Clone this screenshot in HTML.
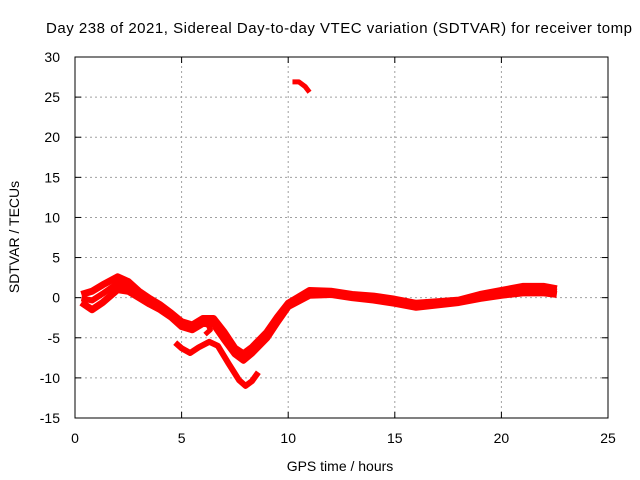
<!DOCTYPE html>
<html><head><meta charset="utf-8"><style>
body{margin:0;background:#fff;}
svg{display:block;font-family:"Liberation Sans",sans-serif;}
</style></head><body>
<svg id="chart" width="640" height="480">
<rect width="640" height="480" fill="#fff"/>
<text x="46" y="33" font-size="15" textLength="586" lengthAdjust="spacing" fill="#000">Day 238 of 2021, Sidereal Day-to-day VTEC variation (SDTVAR) for receiver tomp</text>
<g id="grid"></g>
<g id="axes"></g>
<g id="series"></g>
<text x="340" y="471" font-size="14" text-anchor="middle">GPS time / hours</text>
<text transform="translate(19,237) rotate(-90)" font-size="14" text-anchor="middle">SDTVAR / TECUs</text>
</svg>
<script>
const xTicks=[0,5,10,15,20,25];
const yTicks=[-15,-10,-5,0,5,10,15,20,25,30];
const mainUpperX=[0.3,0.8,1.3,2.0,2.5,3.0,3.5,4.0,4.5,5.0,5.5,6.0,6.5,7.0,7.5,7.9,8.3,9.0,9.5,10.0,10.5,11,12,13,14,15,16,17,18,19,20,21,22,22.6];
const mainUpperY=[0.4,0.8,1.6,2.6,2.0,0.8,-0.1,-0.9,-1.9,-3.0,-3.4,-2.6,-2.6,-4.3,-6.3,-7.0,-6.2,-4.3,-2.4,-0.7,0.1,0.9,0.8,0.4,0.2,-0.2,-0.7,-0.5,-0.3,0.4,0.9,1.4,1.4,1.1];
const mainLowerX=[0.3,0.8,1.3,2.0,2.5,3.0,3.5,4.0,4.5,5.0,5.5,6.0,6.5,7.0,7.5,7.9,8.3,9.0,9.5,10.0,10.5,11,12,13,14,15,16,17,18,19,20,21,22,22.6];
const mainLowerY=[-0.6,-1.5,-0.6,1.0,0.8,0.0,-0.8,-1.5,-2.4,-3.6,-4.0,-3.2,-3.3,-5.2,-7.0,-7.8,-6.9,-5.0,-3.0,-1.1,-0.4,0.3,0.4,0.0,-0.3,-0.7,-1.2,-0.9,-0.6,-0.1,0.3,0.6,0.6,0.4];
const hookX=[5.9,6.2,6.35,6.1];
const hookY=[-2.7,-3.2,-4.0,-4.6];
const lowerX=[4.7,5.0,5.4,5.8,6.3,6.7,7.2,7.7,8.0,8.3,8.6];
const lowerY=[-5.6,-6.3,-6.9,-6.2,-5.5,-6.0,-8.2,-10.3,-11.0,-10.4,-9.3];
const topX=[10.2,10.5,10.8,11.0];
const topY=[26.9,26.9,26.3,25.6];
const X0=75,X1=608,Y0=418,Y1=57,xmin=0,xmax=25,ymin=-15,ymax=30;
const sx=v=>X0+(v-xmin)/(xmax-xmin)*(X1-X0);
const sy=v=>Y0-(v-ymin)/(ymax-ymin)*(Y0-Y1);
const NS="http://www.w3.org/2000/svg";
const grid=document.getElementById('grid'),axes=document.getElementById('axes'),ser=document.getElementById('series');
function mk(tag,attrs,parent){const e=document.createElementNS(NS,tag);for(const k in attrs)e.setAttribute(k,attrs[k]);parent.appendChild(e);return e;}
xTicks.forEach(t=>{
  if(t>xmin&&t<xmax){const g=mk('line',{x1:sx(t),x2:sx(t),y1:Y0,y2:Y1,stroke:'#a0a0a0','stroke-dasharray':'2,3'},grid);
  
  }
  const tk=mk('line',{x1:sx(t),x2:sx(t),y1:Y0,y2:Y0-6,stroke:'#000'},axes);
  
  
  const tk2=mk('line',{x1:sx(t),x2:sx(t),y1:Y1,y2:Y1+6,stroke:'#000'},axes);
  
  
  const l=mk('text',{x:sx(t),y:Y0+25,'font-size':14,'text-anchor':'middle'},axes);l.textContent=t;
  
  
});
yTicks.forEach(t=>{
  if(t>ymin&&t<ymax){const g=mk('line',{x1:X0,x2:X1,y1:sy(t),y2:sy(t),stroke:'#a0a0a0','stroke-dasharray':'2,3'},grid);
  
  }
  const tk=mk('line',{x1:X0,x2:X0+6,y1:sy(t),y2:sy(t),stroke:'#000'},axes);
  
  
  const tk2=mk('line',{x1:X1,x2:X1-6,y1:sy(t),y2:sy(t),stroke:'#000'},axes);
  
  
  const l=mk('text',{x:X0-15,y:sy(t)+5,'font-size':14,'text-anchor':'end'},axes);l.textContent=t;
  
  
});
const fr=mk('rect',{x:X0,y:Y1,width:X1-X0,height:Y0-Y1,fill:'none',stroke:'#000'},axes);


function line(xs,ys,w,name){
  const p=mk('polyline',{points:xs.map((x,i)=>sx(x)+','+sy(ys[i])).join(' '),fill:'none',stroke:'#ff0000','stroke-width':w,'stroke-linejoin':'round','stroke-linecap':'butt'},ser);
  
  
}
line(mainUpperX,mainUpperY,7,'series-main-upper');
line(mainLowerX,mainLowerY,7,'series-main-lower');
line(mainUpperX,mainUpperY.map((v,i)=>(v+mainLowerY[i])/2),6,'series-main-middle');
line(hookX,hookY,5,'series-hook');
line(lowerX,lowerY,6,'series-lower-branch');
line(topX,topY,5,'series-top-fragment');
</script>
</body></html>
